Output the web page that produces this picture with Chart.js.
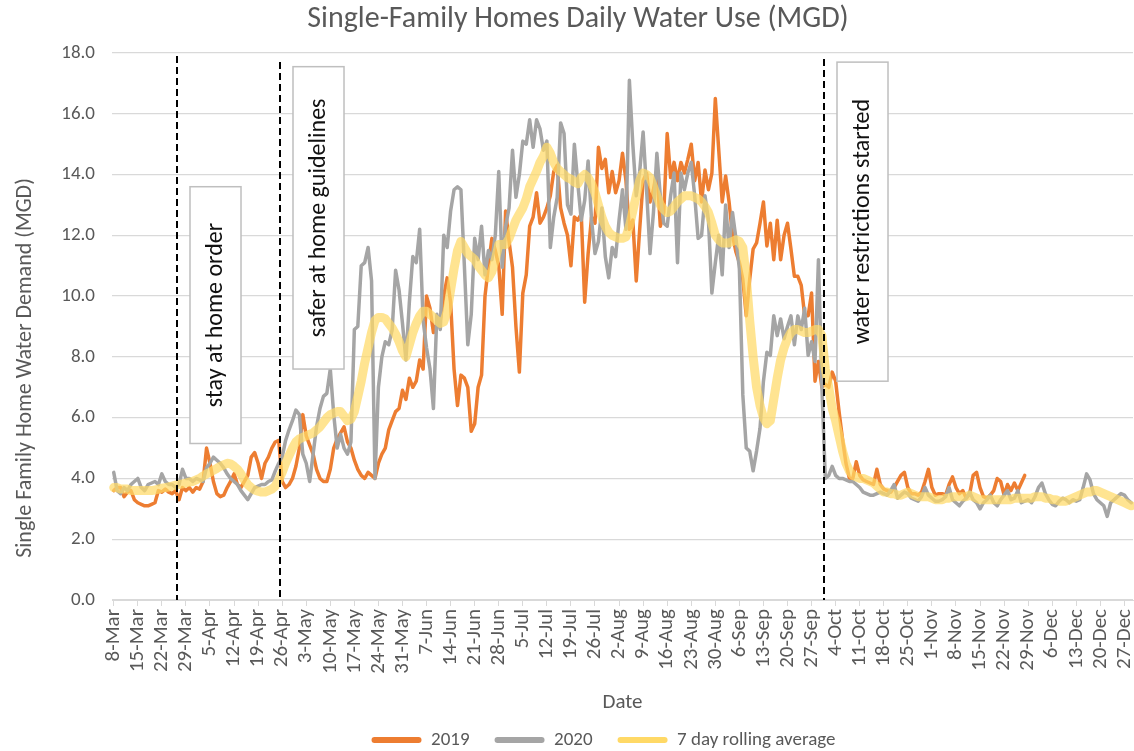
<!DOCTYPE html>
<html>
<head>
<meta charset="utf-8">
<title>Single-Family Homes Daily Water Use (MGD)</title>
<script src="https://cdn.jsdelivr.net/npm/chart.js@4.4.1/dist/chart.umd.min.js"></script>
<style>
  html, body { margin: 0; padding: 0; background: #fff; }
  canvas { display: block; }
</style>
</head>
<body>
<canvas id="waterChart" width="1134" height="751"></canvas>
<script>
// daily values, one per day starting 8-Mar
const use2019 = [
  3.6, 3.7, 3.7, 3.4, 3.55, 3.6, 3.3, 3.2, 3.15, 3.1,
  3.1, 3.15, 3.2, 3.6, 3.55, 3.65, 3.55, 3.5, 3.6, 3.3,
  3.7, 3.6, 3.7, 3.55, 3.7, 3.65, 3.9, 5.0, 4.5, 3.9,
  3.5, 3.4, 3.45, 3.7, 3.9, 4.15, 3.8, 3.7, 3.9, 4.1,
  4.7, 4.85, 4.5, 4.0, 4.5, 4.7, 5.0, 5.2, 5.25, 3.9,
  3.7, 3.8, 4.0, 4.4, 5.0, 6.1, 5.4, 5.1, 4.8, 4.3,
  4.0, 3.9, 3.9, 4.3, 5.0, 5.3, 5.5, 5.7, 5.2, 5.0,
  4.6, 4.3, 4.1, 4.0, 4.2, 4.1, 4.0, 4.5, 4.8, 5.0,
  5.6, 5.9, 6.2, 6.3, 6.9, 6.6, 7.3, 7.0, 7.2, 7.9,
  7.6, 10.0, 9.6, 8.8, 9.1, 9.2, 10.0, 10.6, 9.8, 7.6,
  6.4, 7.4, 7.3, 7.0, 5.55, 5.8, 7.0, 7.4, 10.0, 11.0,
  11.9, 11.5, 11.0, 9.4, 12.8, 11.8, 10.95, 9.0, 7.5, 10.1,
  10.7, 12.3, 12.6, 13.4, 12.4, 12.6, 12.9, 13.3, 14.1, 14.3,
  12.9, 12.4, 12.0, 11.0, 12.6, 12.5, 12.7, 9.8, 11.4, 12.6,
  12.4, 14.9, 14.2, 14.5, 13.4, 14.1, 13.4, 13.8, 14.7, 13.8,
  12.2, 12.5, 10.5, 12.2, 13.8, 14.05, 13.1, 13.5, 14.15, 12.3,
  12.75, 15.35, 13.9, 14.4, 13.8, 14.4, 14.05, 14.5, 15.0, 13.8,
  14.4, 13.1, 14.15, 13.5, 14.05, 16.5, 14.8, 13.1, 13.95, 13.1,
  12.0, 11.45, 11.1, 10.55, 9.35, 10.55, 11.55, 11.75, 12.4, 13.1,
  11.65, 12.4, 11.2, 12.5, 11.2, 12.0, 12.4, 11.55, 10.65, 10.65,
  10.35, 9.35, 9.35, 10.1, 7.2, 7.85, 7.0, 7.1, 7.0, 7.5,
  7.2, 6.2, 5.3, 4.5, 4.0, 4.0, 4.55, 4.1, 3.95, 3.9,
  3.85, 3.8, 4.3, 3.8, 3.65, 3.6, 3.55, 3.7, 3.9, 4.1,
  4.2, 3.7, 3.5, 3.5, 3.45, 3.55, 3.9, 4.3, 3.7, 3.45,
  3.5, 3.5, 3.45, 3.8, 4.05, 3.7, 3.5, 3.6, 3.35, 3.5,
  4.1, 4.2, 3.7, 3.4, 3.35, 3.45, 3.6, 4.0, 3.9, 3.45,
  3.8, 3.6, 3.85, 3.6, 3.85, 4.1
];

const use2020 = [
  4.2, 3.6, 3.5, 3.7, 3.6, 3.8, 3.9, 4.0, 3.7, 3.6,
  3.8, 3.85, 3.9, 3.8, 4.15, 3.9, 3.8, 3.8, 3.7, 3.8,
  4.3, 4.0, 4.0, 3.9, 4.0, 3.95, 3.9, 4.35, 4.5, 4.7,
  4.6, 4.5, 4.35, 4.15, 4.0, 3.9, 3.8, 3.6, 3.45, 3.3,
  3.5, 3.7, 3.75, 3.8, 3.8, 3.9, 3.95, 4.25, 4.5, 4.7,
  5.25, 5.6, 5.9, 6.25, 6.1, 4.8, 4.5, 3.9, 4.8, 5.7,
  6.3, 6.7, 6.8, 7.6, 6.1, 5.0, 5.45, 5.0, 4.8, 5.2,
  8.9, 9.0, 11.0, 11.1, 11.6, 10.5, 4.0, 7.0, 8.0, 8.5,
  8.4, 8.9, 10.85, 10.2, 9.1, 7.9, 9.8, 11.3, 11.1, 12.2,
  9.2, 8.3, 7.6, 6.3, 9.4, 8.9, 12.0, 11.6, 12.8, 13.5,
  13.6, 13.5, 11.0, 8.4, 9.4, 11.9, 11.2, 12.3, 10.7, 11.5,
  11.2, 12.0, 14.1, 10.95, 12.3, 12.9, 14.8, 13.25, 14.0, 15.1,
  15.0, 15.8, 14.9, 15.8, 15.5, 14.8, 15.1, 11.6, 12.6, 13.25,
  15.7, 15.35, 13.0, 12.7, 15.0, 13.7, 12.5, 13.15, 14.45, 12.5,
  11.4, 11.8, 12.9, 11.3, 10.6, 11.6, 11.3, 12.5, 13.5, 12.2,
  17.1, 15.0, 13.3, 14.1, 15.4, 13.5, 11.4, 12.75, 14.7, 13.3,
  12.4, 12.3, 13.3, 14.05, 11.1, 14.05, 13.5, 14.05, 14.4, 13.3,
  11.9, 12.0, 13.3, 12.5, 10.1, 11.1, 12.0, 10.7, 13.0, 11.6,
  12.75, 11.9, 10.9, 6.75, 5.0, 4.9, 4.25, 4.9, 5.65, 7.2,
  8.15, 8.05, 9.35, 8.7, 9.25, 8.6, 9.0, 9.35, 8.4, 9.35,
  8.9, 9.6, 8.05, 8.5, 7.85, 11.2, 7.0, 4.0, 4.1, 4.4,
  4.1, 4.0, 4.0, 3.95, 3.9, 3.9, 3.8, 3.7, 3.55, 3.5,
  3.45, 3.45, 3.5, 3.55, 3.5, 3.45, 3.6, 3.8, 3.35, 3.45,
  3.55, 3.5, 3.35, 3.3, 3.25, 3.4, 3.7, 3.45, 3.35, 3.25,
  3.25, 3.3, 3.4, 3.7, 3.3, 3.2, 3.1, 3.25, 3.35, 3.55,
  3.3, 3.2, 3.0, 3.2, 3.3, 3.45, 3.2, 3.1, 3.3, 3.45,
  3.6, 3.3, 3.35, 3.6, 3.2, 3.25, 3.3, 3.2, 3.4, 3.7,
  3.85, 3.5, 3.3, 3.15, 3.1, 3.25, 3.35, 3.3, 3.2, 3.3,
  3.25, 3.3, 3.7, 4.15, 3.95, 3.5, 3.3, 3.2, 3.1, 2.75,
  3.2, 3.3, 3.4, 3.5, 3.45, 3.3, 3.2
];

const rolling7 = [
  3.7, 3.7, 3.65, 3.65, 3.65, 3.6, 3.6, 3.6, 3.6, 3.6,
  3.6, 3.6, 3.62, 3.65, 3.68, 3.7, 3.72, 3.75, 3.78, 3.8,
  3.82, 3.85, 3.88, 3.9, 3.95, 4.0, 4.08, 4.15, 4.2, 4.27,
  4.33, 4.4, 4.45, 4.5, 4.48, 4.4, 4.3, 4.15, 3.95, 3.8,
  3.7, 3.62, 3.58, 3.55, 3.55, 3.6, 3.65, 3.75, 3.95, 4.2,
  4.5, 4.75, 5.0, 5.2, 5.3, 5.35, 5.4, 5.45, 5.5, 5.6,
  5.7, 5.85, 6.0, 6.1, 6.15, 6.2, 6.2, 6.05, 5.9, 5.95,
  6.2, 6.7, 7.2, 7.8, 8.3, 8.8, 9.2, 9.3, 9.3, 9.25,
  9.1, 8.95, 8.75, 8.5, 8.2, 8.0, 8.4, 8.8, 9.1, 9.35,
  9.5, 9.5, 9.4, 9.3, 9.2, 9.1, 9.15, 9.5, 10.2, 10.9,
  11.5, 11.8, 11.6, 11.4, 11.3, 11.2, 11.0, 10.85, 10.7, 10.6,
  10.8, 11.2, 11.7, 11.7, 11.7, 11.9, 12.2, 12.5, 12.7, 12.9,
  13.2, 13.6, 13.85, 14.1, 14.4, 14.6, 14.9, 14.7, 14.4, 14.2,
  14.1, 14.0, 13.9, 13.85, 13.75, 13.7, 13.9, 14.0, 13.9, 13.7,
  13.4, 13.0, 12.6, 12.3, 12.1, 12.0, 11.95, 11.9, 11.9, 11.95,
  12.3, 12.8, 13.3, 13.8, 14.05, 14.0, 13.9, 13.6, 13.3, 13.0,
  12.85, 12.75, 12.8, 12.95, 13.1, 13.2, 13.3, 13.3, 13.3, 13.25,
  13.2, 13.1, 12.95, 12.75, 12.4, 12.0, 11.85, 11.75, 11.75, 11.75,
  11.8, 11.85, 11.8, 11.6, 10.6, 9.2, 8.0, 7.0, 6.4, 6.0,
  5.8, 5.9, 6.6, 7.3, 7.9, 8.3, 8.6, 8.8, 8.9, 8.9,
  8.85, 8.8, 8.8, 8.85, 8.9, 8.9, 8.7, 7.6, 7.0, 6.3,
  5.9, 5.4, 4.9, 4.5, 4.25, 4.1, 4.05, 4.0, 4.0, 3.95,
  3.9, 3.85, 3.75, 3.65, 3.55, 3.55, 3.5, 3.5, 3.45, 3.45,
  3.5, 3.55, 3.5, 3.45, 3.4, 3.4, 3.4, 3.4, 3.35, 3.3,
  3.3, 3.3, 3.35, 3.35, 3.4, 3.4, 3.4, 3.4, 3.4, 3.45,
  3.4, 3.35, 3.3, 3.3, 3.3, 3.3, 3.3, 3.3, 3.3, 3.3,
  3.3, 3.3, 3.35, 3.35, 3.35, 3.35, 3.35, 3.35, 3.4, 3.4,
  3.4, 3.35, 3.35, 3.3, 3.3, 3.25, 3.25, 3.25, 3.3, 3.35,
  3.4, 3.45, 3.5, 3.55, 3.55, 3.6, 3.6, 3.55, 3.5, 3.45,
  3.4, 3.35, 3.3, 3.25, 3.2, 3.15, 3.1
];

const seriesNames = ['2019', '2020', '7 day rolling average'];
const monthNames = ['Jan', 'Feb', 'Mar', 'Apr', 'May', 'Jun', 'Jul', 'Aug', 'Sep', 'Oct', 'Nov', 'Dec'];
const yTicks = [0, 2, 4, 6, 8, 10, 12, 14, 16, 18];
const labelStep = 7;

// category labels: one per day from 8-Mar
const dates = [];
for (let i = 0; i < use2020.length; i++) {
  const d = new Date(2020, 2, 8 + i);
  dates.push(d.getDate() + '-' + monthNames[d.getMonth()]);
}

// vertical event markers with their text boxes
const events = [
  { date: '26-Mar', text: 'stay at home order', boxTop: 13.6, boxBottom: 5.15, lineTop: 17.9 },
  { date: '25-Apr', text: 'safer at home guidelines', boxTop: 17.55, boxBottom: 7.6, lineTop: 17.7 },
  { date: '30-Sep', text: 'water restrictions started', boxTop: 17.7, boxBottom: 7.2, lineTop: 17.8 }
];

const FONT = 'Calibri, Carlito, Lato, sans-serif';
const GREY_TEXT = '#595959';

const textPlugin = {
  id: 'eventsAndTitles',
  afterLayout(chart) {
    // legend sits a little right of the canvas centre
    chart.legend.left += 37;
    chart.legend.right += 37;
  },
  afterDatasetsDraw(chart) {
    const ctx = chart.ctx;
    const x = chart.scales.x;
    const y = chart.scales.y;
    ctx.save();
    events.forEach(ev => {
      const px = Math.round(x.getPixelForValue(dates.indexOf(ev.date) + 0.5));
      ctx.beginPath();
      ctx.setLineDash([7, 4]);
      ctx.lineWidth = 2;
      ctx.strokeStyle = '#000';
      ctx.moveTo(px, y.getPixelForValue(ev.lineTop));
      ctx.lineTo(px, chart.chartArea.bottom);
      ctx.stroke();
      ctx.setLineDash([]);

      const top = y.getPixelForValue(ev.boxTop);
      const bottom = y.getPixelForValue(ev.boxBottom);
      const left = px + 13;
      const w = 51;
      ctx.fillStyle = '#fff';
      ctx.fillRect(left, top, w, bottom - top);
      ctx.lineWidth = 1.5;
      ctx.strokeStyle = '#BFBFBF';
      ctx.strokeRect(left, top, w, bottom - top);

      ctx.save();
      ctx.translate(left + w / 2, (top + bottom) / 2);
      ctx.rotate(-Math.PI / 2);
      ctx.fillStyle = '#111';
      ctx.font = '24px ' + FONT;
      ctx.textAlign = 'center';
      ctx.textBaseline = 'middle';
      ctx.fillText(ev.text, 0, 0);
      ctx.restore();
    });

    // chart title
    ctx.fillStyle = GREY_TEXT;
    ctx.font = '30px ' + FONT;
    ctx.textAlign = 'center';
    ctx.textBaseline = 'middle';
    ctx.fillText('Single-Family Homes Daily Water Use (MGD)', 578, 19);

    // y axis title
    ctx.save();
    ctx.translate(25, 368);
    ctx.rotate(-Math.PI / 2);
    ctx.font = '22px ' + FONT;
    ctx.fillText('Single Family Home Water Demand (MGD)', 0, 0);
    ctx.restore();
    ctx.restore();
  }
};

Chart.defaults.font.family = FONT;
Chart.defaults.color = GREY_TEXT;

new Chart(document.getElementById('waterChart').getContext('2d'), {
  type: 'line',
  data: {
    labels: dates,
    datasets: [
      {
        label: seriesNames[0],
        data: use2019,
        borderColor: '#ED7D31',
        backgroundColor: '#ED7D31',
        borderWidth: 3.5,
        order: 2
      },
      {
        label: seriesNames[1],
        data: use2020,
        borderColor: '#A5A5A5',
        backgroundColor: '#A5A5A5',
        borderWidth: 3.5,
        order: 1
      },
      {
        label: seriesNames[2],
        data: rolling7,
        borderColor: 'rgba(255, 217, 102, 0.72)',
        backgroundColor: '#FFD966',
        borderWidth: 9,
        order: 0
      }
    ]
  },
  options: {
    responsive: false,
    animation: false,
    elements: {
      point: { radius: 0, hoverRadius: 0 },
      line: { tension: 0, borderJoinStyle: 'round', borderCapStyle: 'round' }
    },
    layout: { padding: { left: 0, right: 1, top: 53, bottom: -8.5 } },
    plugins: {
      title: { display: false },
      legend: {
        position: 'bottom',
        labels: {
          boxWidth: 50,
          boxHeight: 6,
          padding: 25,
          useBorderRadius: true,
          borderRadius: 3,
          color: GREY_TEXT,
          font: { size: 19 },
          generateLabels(chart) {
            return chart.data.datasets.map((ds, i) => ({
              text: ds.label,
              fillStyle: ds.backgroundColor,
              strokeStyle: ds.backgroundColor,
              lineWidth: 0,
              borderRadius: 3,
              fontColor: GREY_TEXT,
              hidden: !chart.isDatasetVisible(i),
              datasetIndex: i
            }));
          }
        }
      },
      tooltip: { enabled: false }
    },
    scales: {
      x: {
        offset: true,
        afterBuildTicks(axis) {
          axis.ticks = axis.ticks.filter(t => t.value % labelStep === 0);
        },
        afterFit(axis) {
          axis.height = 105.5;
          axis.paddingLeft = 0;
          axis.paddingRight = 0;
        },
        grid: {
          display: true,
          drawOnChartArea: false,
          drawTicks: true,
          tickLength: 6,
          offset: false,
          color: '#D9D9D9'
        },
        border: { display: true, color: '#D9D9D9', width: 1 },
        ticks: {
          autoSkip: false,
          maxRotation: 90,
          minRotation: 90,
          padding: 3,
          color: GREY_TEXT,
          font: { size: 21 }
        },
        title: {
          display: true,
          text: 'Date',
          color: GREY_TEXT,
          font: { size: 21 },
          padding: { top: 0, bottom: -9.5 }
        }
      },
      y: {
        min: 0,
        max: 18,
        afterBuildTicks(axis) {
          axis.ticks = yTicks.map(v => ({ value: v }));
        },
        afterFit(axis) {
          axis.width = 112;
          axis.paddingTop = 0;
          axis.paddingBottom = 0;
        },
        grid: { color: '#D9D9D9', lineWidth: 1.3, drawTicks: false },
        border: { display: false },
        ticks: {
          padding: 17,
          color: GREY_TEXT,
          font: { size: 19 },
          callback: v => v.toFixed(1)
        }
      }
    }
  },
  plugins: [textPlugin]
});
</script>
</body>
</html>
